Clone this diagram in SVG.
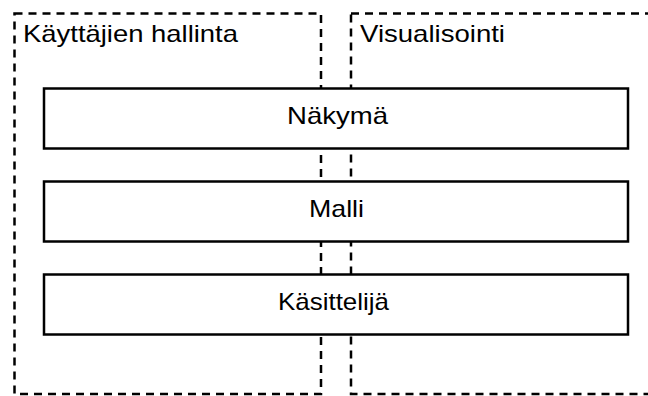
<svg xmlns="http://www.w3.org/2000/svg" width="648" height="396" viewBox="0 0 648 396">
  <style>
    .area { fill: none; stroke: #000; stroke-width: 2.5; stroke-dasharray: 8 6; }
    .layer { fill: #fff; stroke: #000; stroke-width: 2.5; }
    .label { font-family: "Liberation Sans", Arial, sans-serif; font-size: 24px; fill: #000; }
  </style>
  <rect width="648" height="396" fill="#fff"/>

  <!-- Functional areas (dashed) -->
  <g id="area-kayttajat">
    <rect class="area" x="14.5" y="13.5" width="306.5" height="380.5"/>
    <text class="label" x="23" y="42" textLength="215" lengthAdjust="spacingAndGlyphs">Käyttäjien hallinta</text>
  </g>
  <g id="area-visualisointi">
    <rect class="area" x="351" y="13.5" width="310" height="380.5"/>
    <text class="label" x="360" y="42" textLength="145" lengthAdjust="spacingAndGlyphs">Visualisointi</text>
  </g>

  <!-- Layers -->
  <g id="layer-nakyma">
    <rect class="layer" x="44" y="88.5" width="584" height="60"/>
    <text class="label" x="287" y="124" textLength="101" lengthAdjust="spacingAndGlyphs">Näkymä</text>
  </g>
  <g id="layer-malli">
    <rect class="layer" x="44" y="181.5" width="584" height="60"/>
    <text class="label" x="309" y="217" textLength="55" lengthAdjust="spacingAndGlyphs">Malli</text>
  </g>
  <g id="layer-kasittelija">
    <rect class="layer" x="44" y="274.5" width="584" height="60"/>
    <text class="label" x="278" y="309.5" textLength="111" lengthAdjust="spacingAndGlyphs">Käsittelijä</text>
  </g>

  <g id="connectors"></g>
</svg>
